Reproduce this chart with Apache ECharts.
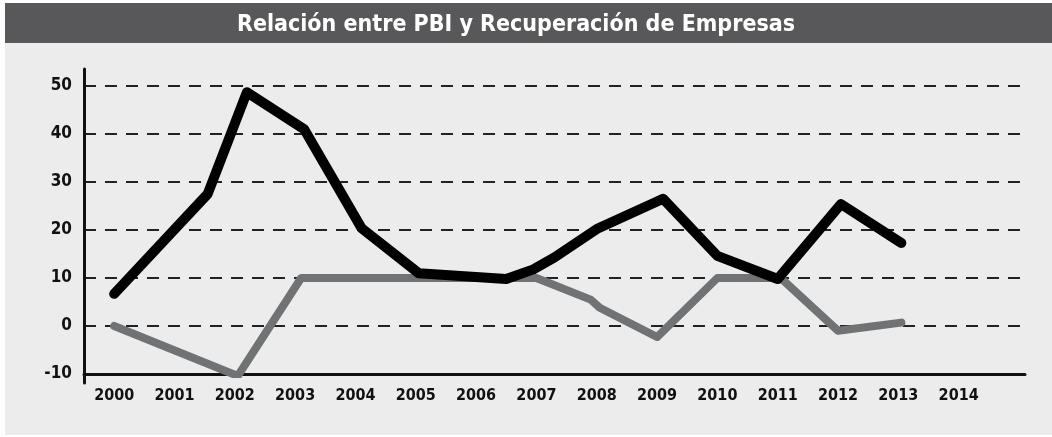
<!DOCTYPE html>
<html>
<head>
<meta charset="utf-8">
<script src="https://cdn.jsdelivr.net/npm/echarts@6/dist/echarts.min.js"></script>
<style>
  html, body { margin: 0; padding: 0; background: #ffffff; }
  #main { position: absolute; left: 5px; top: 3px; width: 1047px; height: 432px; background: #ebeceb; }
</style>
</head>
<body>
<div id="main"></div>
<script>
// años (eje X) y etiquetas
var yearLabels = [2000, 2001, 2002, 2003, 2004, 2005, 2006, 2007, 2008, 2009, 2010, 2011, 2012, 2013, 2014];
var yTicks = [-10, 0, 10, 20, 30, 40, 50];

// serie negra (PBI)
var pbiX = [2000, 2001.55, 2002.2, 2003.15, 2004.1, 2005.05, 2006.5, 2006.95, 2007.3, 2008, 2009.1, 2010, 2011, 2012.05, 2013.05];
var pbiY = [6.7, 27.5, 48.7, 41, 20.4, 11, 9.8, 11.8, 14.3, 20.2, 26.5, 14.6, 9.8, 25.4, 17.3];

// serie gris (Recuperación de Empresas)
var recX = [2000, 2002.05, 2003.1, 2007, 2007.9, 2008.05, 2009, 2010, 2011.05, 2012, 2013.05];
var recY = [0, -10.4, 10, 10, 5.5, 3.8, -2.3, 10, 10, -1, 0.7];

function pairs(xs, ys) {
    var out = [];
    for (var i = 0; i < xs.length; i++) out.push([xs[i], ys[i]]);
    return out;
}

var labelFont = "'Liberation Sans Narrow', 'DejaVu Sans Condensed', sans-serif";

var myChart = echarts.init(document.getElementById('main'));

var option = {
    animation: false,
    title: {
        text: 'Relación entre PBI y Recuperación de Empresas',
        left: 506,
        top: 6,
        textAlign: 'center',
        textStyle: {
            color: '#ffffff',
            fontFamily: labelFont,
            fontWeight: 'bold',
            fontSize: 23
        }
    },
    graphic: [
        {
            type: 'rect',
            left: 0,
            top: 0,
            z: -1,
            shape: { width: 1047, height: 40 },
            style: { fill: '#58585a' }
        }
    ],
    grid: [
        { left: 79, right: 27, top: 83, bottom: 61 },
        { left: 79, right: 27, top: 66, bottom: 52 }
    ],
    xAxis: [
        {
            type: 'value',
            gridIndex: 0,
            min: 1999.5,
            max: 2015.1,
            interval: 0.5,
            axisLine: { show: true, onZero: false, lineStyle: { color: '#111', width: 3 } },
            axisTick: { show: false },
            splitLine: { show: false },
            axisLabel: {
                margin: 14,
                color: '#111',
                fontFamily: labelFont,
                fontWeight: 'bold',
                fontSize: 16,
                showMinLabel: false,
                showMaxLabel: false,
                formatter: function (v) {
                    return yearLabels.indexOf(v) >= 0 ? String(v) : '';
                }
            }
        },
        { type: 'value', gridIndex: 1, show: false, min: 0, max: 1 }
    ],
    yAxis: [
        {
            type: 'value',
            gridIndex: 0,
            min: yTicks[0],
            max: yTicks[yTicks.length - 1],
            interval: 10,
            axisLine: { show: false },
            axisTick: { show: false },
            splitLine: {
                show: true,
                lineStyle: { color: '#222', width: 2, type: [12, 9] }
            },
            axisLabel: {
                margin: 12,
                color: '#111',
                fontFamily: labelFont,
                fontWeight: 'bold',
                fontSize: 17,
                padding: [0, 0, 6, 0]
            }
        },
        {
            type: 'value',
            gridIndex: 1,
            min: 0,
            max: 1,
            axisLine: { show: true, lineStyle: { color: '#111', width: 3 } },
            axisTick: { show: false },
            axisLabel: { show: false },
            splitLine: { show: false }
        }
    ],
    series: [
        {
            name: 'Recuperación de Empresas',
            type: 'line',
            xAxisIndex: 0,
            yAxisIndex: 0,
            data: pairs(recX, recY),
            symbol: 'none',
            z: 3,
            lineStyle: { color: '#717274', width: 8, cap: 'round', join: 'round' }
        },
        {
            name: 'PBI',
            type: 'line',
            xAxisIndex: 0,
            yAxisIndex: 0,
            data: pairs(pbiX, pbiY),
            symbol: 'none',
            z: 4,
            lineStyle: { color: '#000000', width: 10, cap: 'round', join: 'round' }
        }
    ]
};
myChart.setOption(option);
</script>
</body>
</html>
